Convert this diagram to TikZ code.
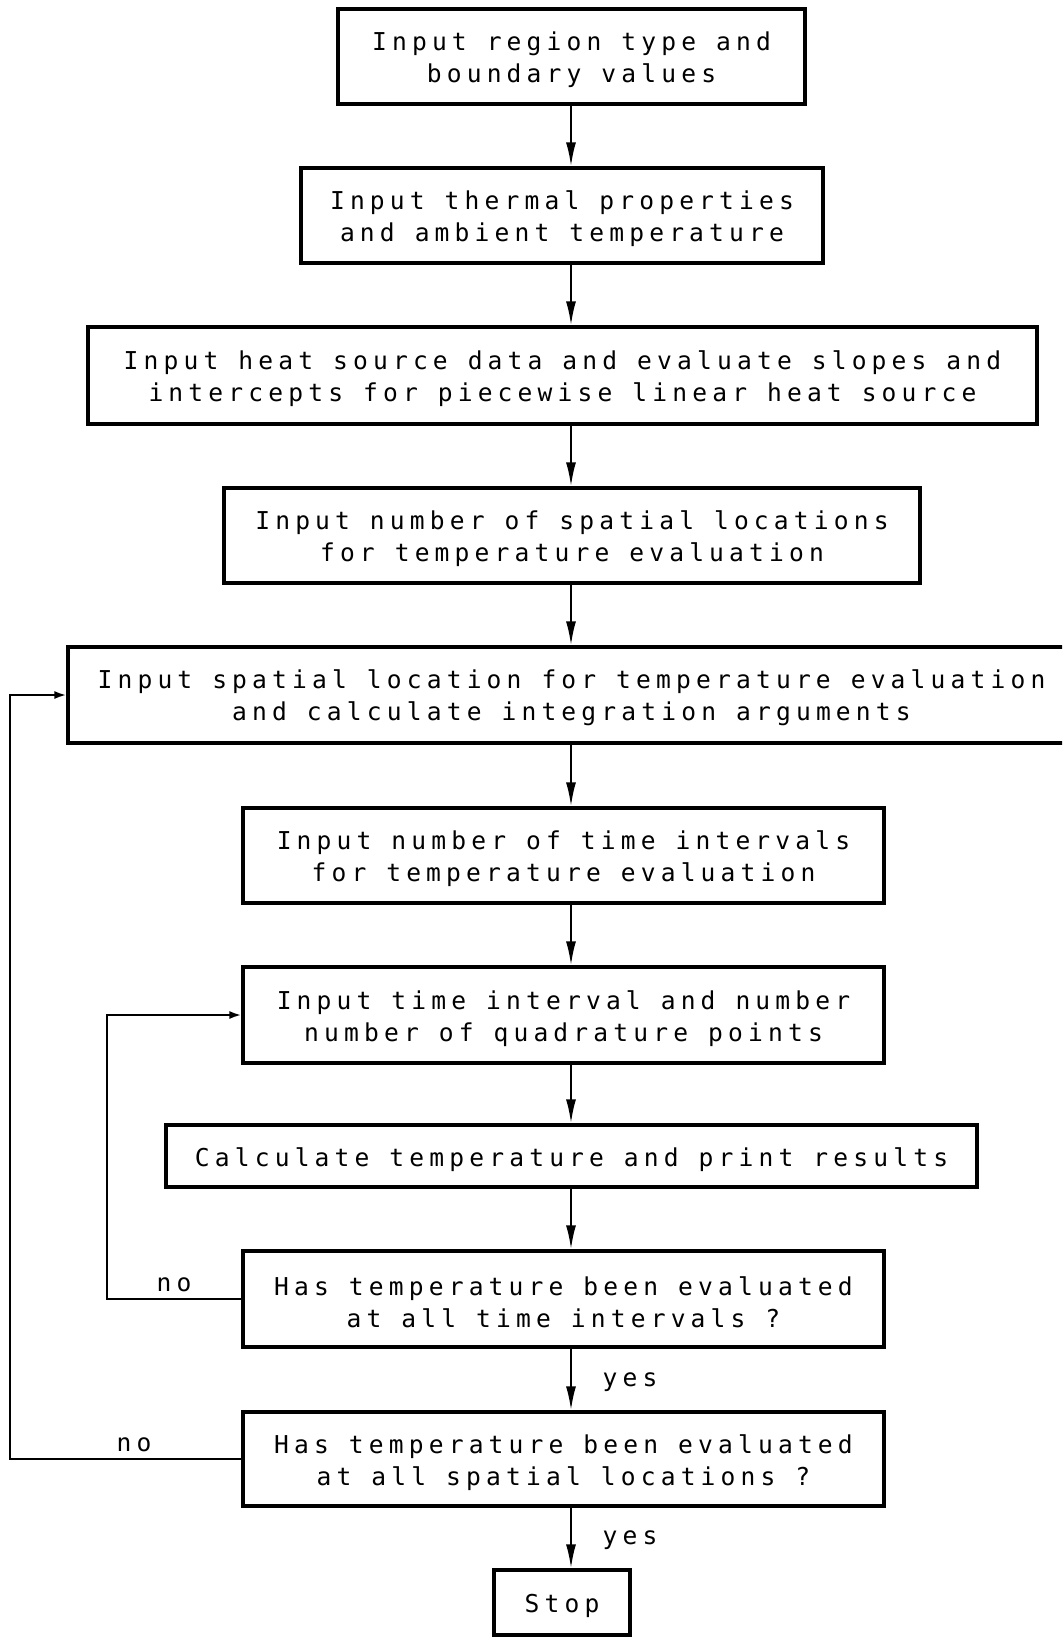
\documentclass[tikz,border=0pt]{standalone}
\usepackage{fontspec}
\usetikzlibrary{arrows.meta}
\newfontfamily\dotfont[LetterSpace=21]{DejaVu Sans Mono}
\newcommand\upstrut{\rule{0pt}{12.6pt}}
\tikzset{
  x=0.5pt, y=-0.5pt,
  box/.style={draw, line width=1.6pt, inner sep=0pt, align=center,
    font=\dotfont\fontsize{12.3}{16}\selectfont},
  lbl/.style={inner sep=0pt, font=\dotfont\fontsize{12.3}{16}\selectfont},
  arr/.style={line width=1.1pt, -{Latex[length=12pt,width=5pt]}},
  loop/.style={line width=1.1pt, -{Latex[length=6pt,width=4pt]}}
}
\begin{document}
\begin{tikzpicture}
\clip (0,0) rectangle (1062,1639);
\fill[white] (0,0) rectangle (1062,1639);
\coordinate (ax) at (571,0);
\coordinate (ox) at (10,0);
\coordinate (ix) at (107,0);
\node[box, minimum width=233.5pt, minimum height=47.5pt] (b1) at (571.5,56.5) {\upstrut Input region type and\\boundary values};
\node[box, minimum width=261pt, minimum height=47.5pt] (b2) at (562,215.5) {\upstrut Input thermal properties\\and ambient temperature};
\node[box, minimum width=474.5pt, minimum height=48.5pt] (b3) at (562.5,375.5) {\upstrut Input heat source data and evaluate slopes and\\intercepts for piecewise linear heat source};
\node[box, minimum width=348pt, minimum height=47.5pt] (b4) at (572,535.5) {\upstrut Input number of spatial locations\\for temperature evaluation};
\node[box, minimum width=503.5pt, minimum height=48pt] (b5) at (571.5,695) {\upstrut Input spatial location for temperature evaluation\\and calculate integration arguments};
\node[box, minimum width=320.5pt, minimum height=47.5pt] (b6) at (563.5,855.5) {\upstrut Input number of time intervals\\for temperature evaluation};
\node[box, minimum width=320.5pt, minimum height=48pt] (b7) at (563.5,1015) {\upstrut Input time interval and number\\number of quadrature points};
\node[box, minimum width=405.5pt, minimum height=31pt] (b8) at (571.5,1156) {\upstrut Calculate temperature and print results};
\node[box, minimum width=320.5pt, minimum height=48pt] (b9) at (563.5,1299) {\upstrut Has temperature been evaluated\\at all time intervals ?};
\node[box, minimum width=320.5pt, minimum height=47pt] (b10) at (563.5,1459) {\upstrut Has temperature been evaluated\\at all spatial locations ?};
\node[box, minimum width=68pt, minimum height=32.5pt] (stop) at (562,1602.5) {\upstrut Stop};
\draw[arr] (b1.south -| ax) -- (b2.north -| ax);
\draw[arr] (b2.south -| ax) -- (b3.north -| ax);
\draw[arr] (b3.south -| ax) -- (b4.north -| ax);
\draw[arr] (b4.south -| ax) -- (b5.north -| ax);
\draw[arr] (b5.south -| ax) -- (b6.north -| ax);
\draw[arr] (b6.south -| ax) -- (b7.north -| ax);
\draw[arr] (b7.south -| ax) -- (b8.north -| ax);
\draw[arr] (b8.south -| ax) -- (b9.north -| ax);
\draw[arr] (b9.south -| ax) -- (b10.north -| ax);
\draw[arr] (b10.south -| ax) -- (stop.north -| ax);
\draw[loop] (b9.west) -- (b9.west -| ix) |- (b7.west);
\draw[loop] (b10.west) -- (b10.west -| ox) |- (b5.west);
\node[lbl] (no1) at (174,1285) {no};
\node[lbl] (no2) at (134,1445) {no};
\node[lbl] (yes1) at (630,1382) {yes};
\node[lbl] (yes2) at (630,1540) {yes};
\end{tikzpicture}
\end{document}
